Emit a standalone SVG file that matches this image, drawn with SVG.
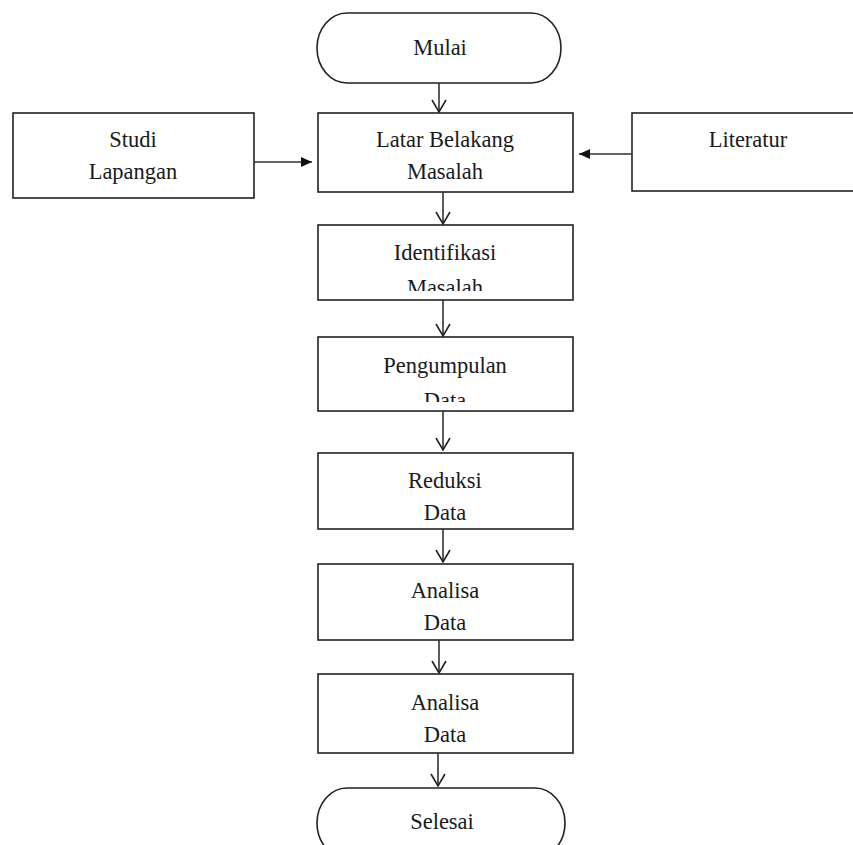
<svg xmlns="http://www.w3.org/2000/svg" width="853" height="845" viewBox="0 0 853 845">
<style>
.box{fill:#fff;stroke:#222;stroke-width:1.6}
.t{font-family:"Liberation Serif","Times New Roman",serif;font-size:22.5px;fill:#1a1a1a;text-anchor:middle}
.ln{stroke:#333;stroke-width:1.6;fill:none}
</style>
<defs>
<marker id="open" markerWidth="16" markerHeight="16" refX="13" refY="8" orient="auto" markerUnits="userSpaceOnUse" viewBox="0 0 16 16">
<path d="M1,1 L13,8 L1,15" fill="none" stroke="#222" stroke-width="1.6"/>
</marker>
<marker id="fill" markerWidth="12" markerHeight="12" refX="11" refY="6" orient="auto" markerUnits="userSpaceOnUse" viewBox="0 0 12 12">
<path d="M0,1 L11,6 L0,11 Z" fill="#111"/>
</marker>
<clipPath id="c1"><rect x="318" y="225" width="255" height="66"/></clipPath>
<clipPath id="c2"><rect x="318" y="337" width="255" height="65"/></clipPath>
</defs>
<rect width="853" height="845" fill="#fff"/>
<g id="mulai"><rect class="box" x="317" y="13" width="244" height="70" rx="30" ry="35"/><text class="t" x="440" y="55">Mulai</text></g>
<g id="studi"><rect class="box" x="13" y="113" width="241" height="85"/><text class="t" x="133" y="147">Studi</text><text class="t" x="133" y="179">Lapangan</text></g>
<g id="latar"><rect class="box" x="318" y="113" width="255" height="79"/><text class="t" x="445" y="147">Latar Belakang</text><text class="t" x="445" y="179">Masalah</text></g>
<g id="literatur"><rect class="box" x="632" y="113" width="222" height="78"/><text class="t" x="748" y="147">Literatur</text></g>
<g id="identifikasi"><rect class="box" x="318" y="225" width="255" height="75"/><text class="t" x="445" y="260">Identifikasi</text><text class="t" x="445" y="295" clip-path="url(#c1)">Masalah</text></g>
<g id="pengumpulan"><rect class="box" x="318" y="337" width="255" height="74"/><text class="t" x="445" y="373">Pengumpulan</text><text class="t" x="445" y="408" clip-path="url(#c2)">Data</text></g>
<g id="reduksi"><rect class="box" x="318" y="453" width="255" height="76"/><text class="t" x="445" y="488">Reduksi</text><text class="t" x="445" y="520">Data</text></g>
<g id="analisa1"><rect class="box" x="318" y="564" width="255" height="76"/><text class="t" x="445" y="598">Analisa</text><text class="t" x="445" y="630">Data</text></g>
<g id="analisa2"><rect class="box" x="318" y="674" width="255" height="79"/><text class="t" x="445" y="710">Analisa</text><text class="t" x="445" y="742">Data</text></g>
<g id="selesai"><rect class="box" x="317" y="788" width="248" height="70" rx="30" ry="35"/><text class="t" x="442" y="829">Selesai</text></g>
<g id="connectors">
<line class="ln" x1="439" y1="83" x2="439" y2="112" marker-end="url(#open)"/>
<line class="ln" x1="443" y1="192" x2="443" y2="224" marker-end="url(#open)"/>
<line class="ln" x1="443" y1="300" x2="443" y2="336" marker-end="url(#open)"/>
<line class="ln" x1="443" y1="411" x2="443" y2="450" marker-end="url(#open)"/>
<line class="ln" x1="443" y1="529" x2="443" y2="562" marker-end="url(#open)"/>
<line class="ln" x1="439" y1="640" x2="439" y2="673" marker-end="url(#open)"/>
<line class="ln" x1="438" y1="753" x2="438" y2="786" marker-end="url(#open)"/>
<line class="ln" x1="254" y1="162" x2="312" y2="162" marker-end="url(#fill)"/>
<line class="ln" x1="632" y1="154" x2="579" y2="154" marker-end="url(#fill)"/>
</g>
</svg>
